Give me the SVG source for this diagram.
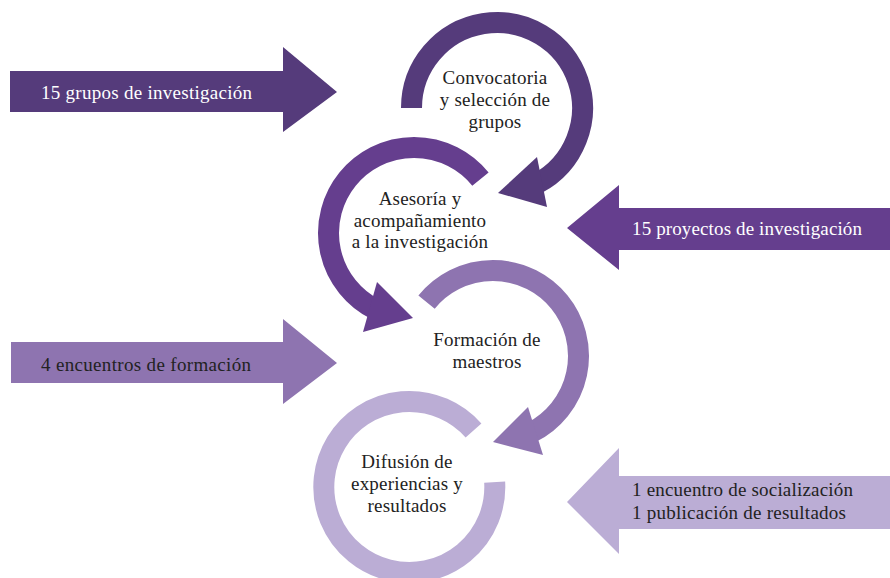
<svg xmlns="http://www.w3.org/2000/svg" width="890" height="578" viewBox="0 0 890 578">
<style>
.ring{fill:none;stroke-width:21;stroke-linecap:butt}
.t{font-family:"Liberation Serif","Times New Roman",serif;font-size:19px;fill:#222}
.c{text-anchor:middle;letter-spacing:0.2px}
.w{fill:#fff}
.c1{fill:#553B7B}.s1{stroke:#553B7B}
.c2{fill:#653E8E}.s2{stroke:#653E8E}
.c3{fill:#8E74B0}.s3{stroke:#8E74B0}
.c4{fill:#BBADD5}.s4{stroke:#BBADD5}
</style>
<rect width="890" height="578" fill="#fff"/>
<g id="connectors"></g>
<g id="input-grupos">
<polygon class="c1" points="10,71 283,71 283,47 337,92 283,132 283,112 10,112"/>
<text class="t w" x="41" y="99" textLength="211">15 grupos de investigación</text>
</g>
<g id="output-proyectos">
<polygon class="c2" points="890,208 619,208 619,185 567,228 619,270 619,250 890,250"/>
<text class="t w" x="632" y="235" textLength="230">15 proyectos de investigación</text>
</g>
<g id="input-encuentros">
<polygon class="c3" points="11,342 283,342 283,319 337,363 283,404 283,383 11,383"/>
<text class="t" x="41" y="371" textLength="210">4 encuentros de formación</text>
</g>
<g id="output-difusion">
<polygon class="c4" points="890,476 619,476 619,448 567,502 619,554 619,529 890,529"/>
<text class="t" x="632" y="496" textLength="221">1 encuentro de socialización</text>
<text class="t" x="632" y="519" textLength="214">1 publicación de resultados</text>
</g>
<g id="stage-convocatoria">
<path class="ring s1" d="M411.5,108 A85.5,85.5 0 1 1 537.14,183.49"/>
<polygon class="c1" points="537,157 547,207 498,193"/>
<text class="t c" x="495" y="84">Convocatoria</text>
<text class="t c" x="495" y="106">y selección de</text>
<text class="t c" x="495" y="128">grupos</text>
</g>
<g id="stage-asesoria">
<path class="ring s2" d="M480.45,179.19 A85.5,85.5 0 1 0 375.18,309.18"/>
<polygon class="c2" points="377,282 363,332 413,318"/>
<text class="t c" x="420" y="205">Asesoría y</text>
<text class="t c" x="420" y="227">acompañamiento</text>
<text class="t c" x="420" y="248">a la investigación</text>
</g>
<g id="stage-formacion">
<path class="ring s3" d="M426.55,302.19 A85.5,85.5 0 1 1 531.82,432.18"/>
<polygon class="c3" points="528,407 543,455 493,442"/>
<text class="t c" x="487" y="346">Formación de</text>
<text class="t c" x="487" y="368">maestros</text>
</g>
<g id="stage-difusion">
<path class="ring s4" d="M473.5,430.5 A85.5,85.5 0 1 0 494.67,482.10"/>
<text class="t c" x="407" y="468">Difusión de</text>
<text class="t c" x="407" y="490">experiencias y</text>
<text class="t c" x="407" y="512">resultados</text>
</g>
</svg>
